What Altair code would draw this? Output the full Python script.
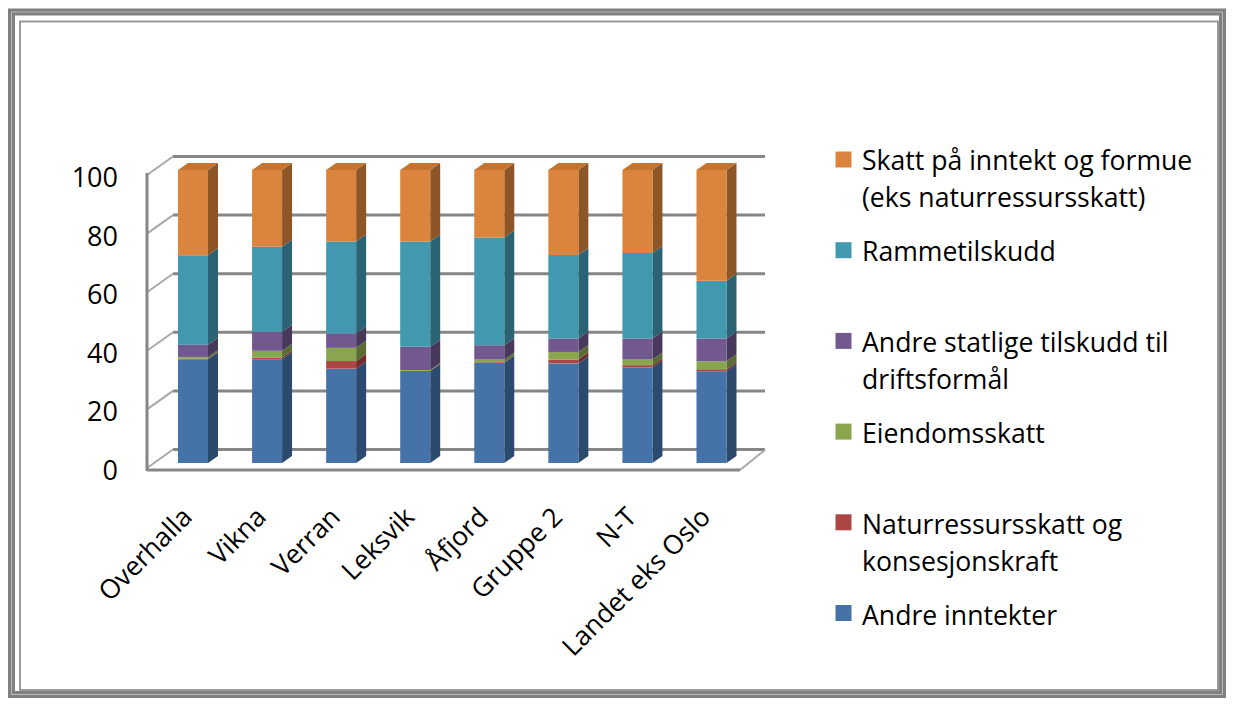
import altair as alt
import pandas as pd

# ---------------- data ----------------
categories = ["Overhalla", "Vikna", "Verran", "Leksvik", "Åfjord", "Gruppe 2", "N-T", "Landet eks Oslo"]
series = [
    "Andre inntekter",
    "Naturressursskatt og konsesjonskraft",
    "Eiendomsskatt",
    "Andre statlige tilskudd til driftsformål",
    "Rammetilskudd",
    "Skatt på inntekt og formue (eks naturressursskatt)",
]
andre_inntekter = [35.4, 35.4, 32.2, 31.4, 34.2, 34.0, 32.6, 31.3]
naturressurs = [0.2, 0.6, 2.6, 0.1, 0.2, 1.3, 0.8, 0.7]
eiendomsskatt = [0.6, 2.3, 4.5, 0.2, 0.9, 2.6, 1.9, 2.7]
andre_statlige = [4.2, 6.5, 4.9, 8.0, 4.9, 4.6, 7.2, 7.8]
rammetilskudd = [30.5, 29.0, 31.4, 35.9, 36.8, 28.5, 29.2, 19.7]
skatt = [29.1, 26.2, 24.4, 24.4, 23.0, 29.0, 28.3, 37.8]
y_ticks = [0, 20, 40, 60, 80, 100]
legend_lines = [
    ["Skatt på inntekt og formue", "(eks naturressursskatt)"],
    ["Rammetilskudd"],
    ["Andre statlige  tilskudd til", "driftsformål"],
    ["Eiendomsskatt"],
    ["Naturressursskatt og", "konsesjonskraft"],
    ["Andre inntekter"],
]
legend_series = series[::-1]

# ---------------- style ----------------
front_colors = ["#4572A7", "#AA4643", "#89A54E", "#71588F", "#4198AF", "#DB843D"]
side_colors = ["#2C4A6E", "#6E2D2B", "#5A6C33", "#48385C", "#2A6373", "#8E5527"]
top_color = "#C4742F"
FONT = "Open Sans"

PLOT_W, PLOT_H = 620, 293
X_DOM = [-0.5805, 7.790]
px_per_x = PLOT_W / (X_DOM[1] - X_DOM[0])
px_per_y = PLOT_H / 100.0
HW = 15 / px_per_x      # half bar width
DX = 10 / px_per_x      # 3D depth (x)
DY = 7 / px_per_y       # 3D depth (y)

xscale = alt.Scale(domain=X_DOM, nice=False, zero=False)
yscale = alt.Scale(domain=[0, 100], nice=False, zero=False)

values = [andre_inntekter, naturressurs, eiendomsskatt, andre_statlige, rammetilskudd, skatt]

front_rows, side_rows, top_rows = [], [], []
for i, cat in enumerate(categories):
    cum = 0.0
    for s, name in enumerate(series):
        v = values[s][i]
        y0, y1 = cum, cum + v
        cum = y1
        key = f"{i}-{s}"
        front_rows.append(dict(cat=cat, series=name, x=i - HW, x2=i + HW, y0=y0, y1=y1))
        for k in (0, 1):
            side_rows.append(dict(key=key, series=name, sx=i + HW + k * DX,
                                  sy=y1 + k * DY, sy2=y0 + k * DY))
    for k in (0, 1):
        top_rows.append(dict(key=str(i), ty=cum + k * DY, tx=i - HW + k * DX, tx2=i + HW + k * DX))

front_df = pd.DataFrame(front_rows)
side_df = pd.DataFrame(side_rows)
top_df = pd.DataFrame(top_rows)
cat_df = pd.DataFrame({"cat": categories, "idx": list(range(len(categories)))})
tick_df = pd.DataFrame({"v": y_ticks})

leg_rows, leg_sq = [], []
for k, lines in enumerate(legend_lines):
    leg_sq.append(dict(series=legend_series[k], ly=-10.5 + 90.7 * k))
    for j, t in enumerate(lines):
        leg_rows.append(dict(t=t, ly=-8 + 91 * k + 37 * j))
leg_df = pd.DataFrame(leg_rows)
leg_sq_df = pd.DataFrame(leg_sq)

front_scale = alt.Scale(domain=series, range=front_colors)
side_scale = alt.Scale(domain=series, range=side_colors)
one = alt.Data(values=[{"k": 0}])

# ---------------- frame decorations ----------------
frame_gray = alt.Chart(one).mark_rect(filled=False, stroke="#808080", strokeWidth=7).encode(
    x=alt.value(-138.5), x2=alt.value(1072.5), y=alt.value(-158), y2=alt.value(524.5))
frame_light = alt.Chart(one).mark_rect(filled=False, stroke="#b8b8b8", strokeWidth=1).encode(
    x=alt.value(-138.5), x2=alt.value(1072.5), y=alt.value(-158), y2=alt.value(524.5))
frame_inner = alt.Chart(one).mark_rect(filled=False, stroke="#9a9a9a", strokeWidth=2).encode(
    x=alt.value(-130), x2=alt.value(1068), y=alt.value(-148.5), y2=alt.value(520))
black_top = alt.Chart(one).mark_rule(color="black", strokeWidth=2).encode(
    x=alt.value(-145), x2=alt.value(1074), y=alt.value(-163.5))
black_left = alt.Chart(one).mark_rule(color="black", strokeWidth=2).encode(
    x=alt.value(-144), y=alt.value(-165), y2=alt.value(528))

# ---------------- 3D box ----------------
grid = alt.Chart(tick_df).mark_rule(color="#868686", strokeWidth=3, yOffset=-13.5).encode(
    y=alt.Y("v:Q", scale=yscale, axis=None), x=alt.value(23), x2=alt.value(615))
wall = alt.Chart(tick_df).mark_rule(color="#a8a8a8", strokeWidth=2, yOffset=5, y2Offset=-13.5).encode(
    y=alt.Y("v:Q", scale=yscale, axis=None), y2=alt.Y2("v"), x=alt.value(-3), x2=alt.value(23))
wall_front = alt.Chart(one).mark_rule(color="#868686", strokeWidth=3).encode(
    x=alt.value(-3), y=alt.value(3), y2=alt.value(301))
floor_front = alt.Chart(one).mark_rule(color="#868686", strokeWidth=3).encode(
    x=alt.value(-3), x2=alt.value(590), y=alt.value(300))
floor_side = alt.Chart(one).mark_rule(color="#a8a8a8", strokeWidth=2).encode(
    x=alt.value(590), x2=alt.value(615), y=alt.value(300), y2=alt.value(280))

# ---------------- bars ----------------
sides = alt.Chart(side_df).mark_area(interpolate="linear").encode(
    x=alt.X("sx:Q", scale=xscale, axis=None),
    y=alt.Y("sy:Q", scale=yscale, axis=None, stack=None),
    y2=alt.Y2("sy2"),
    color=alt.Color("series:N", scale=side_scale, legend=None),
    detail="key:N",
)
fronts = alt.Chart(front_df).mark_rect().encode(
    x=alt.X("x:Q", scale=xscale, axis=None), x2="x2:Q",
    y=alt.Y("y0:Q", scale=yscale, axis=None), y2="y1:Q",
    color=alt.Color("series:N", scale=front_scale, legend=None),
)
tops = alt.Chart(top_df).mark_area(orient="horizontal", color=top_color).encode(
    y=alt.Y("ty:Q", scale=yscale, axis=None, stack=None),
    x=alt.X("tx:Q", scale=xscale, axis=None), x2=alt.X2("tx2"),
    detail="key:N",
)

# ---------------- labels ----------------
xlabels = alt.Chart(cat_df).mark_text(angle=315, align="right", baseline="middle", fontSize=26.5,
                                      font=FONT, color="black", xOffset=-5).encode(
    x=alt.X("idx:Q", scale=xscale, axis=None), y=alt.value(343), text="cat:N")
ylabels = alt.Chart(tick_df).mark_text(align="right", baseline="middle", fontSize=27,
                                       font=FONT, color="black", yOffset=9).encode(
    y=alt.Y("v:Q", scale=yscale, axis=None), x=alt.value(-32), text="v:Q")

# ---------------- legend ----------------
leg_squares = alt.Chart(leg_sq_df).mark_square(size=256, opacity=1).encode(
    x=alt.value(693.5), y=alt.Y("ly:Q", scale=None, axis=None),
    color=alt.Color("series:N", scale=front_scale, legend=None))
leg_text = alt.Chart(leg_df).mark_text(align="left", baseline="middle", fontSize=26.6,
                                       font=FONT, color="black").encode(
    x=alt.value(712), y=alt.Y("ly:Q", scale=None, axis=None), text="t:N")

chart = alt.layer(
    frame_gray, frame_light, frame_inner, black_top, black_left,
    grid, wall, wall_front, floor_front, floor_side,
    sides, fronts, tops,
    xlabels, ylabels,
    leg_squares, leg_text,
).resolve_scale(y="independent", color="independent").properties(
    width=PLOT_W, height=PLOT_H,
    autosize=alt.AutoSizeParams(type="none"),
    padding={"left": 142, "top": 162, "right": 456, "bottom": 235},
    background="white",
).configure_view(stroke=None)

chart.save("out.html", embed_options={"renderer": "svg", "actions": False})
